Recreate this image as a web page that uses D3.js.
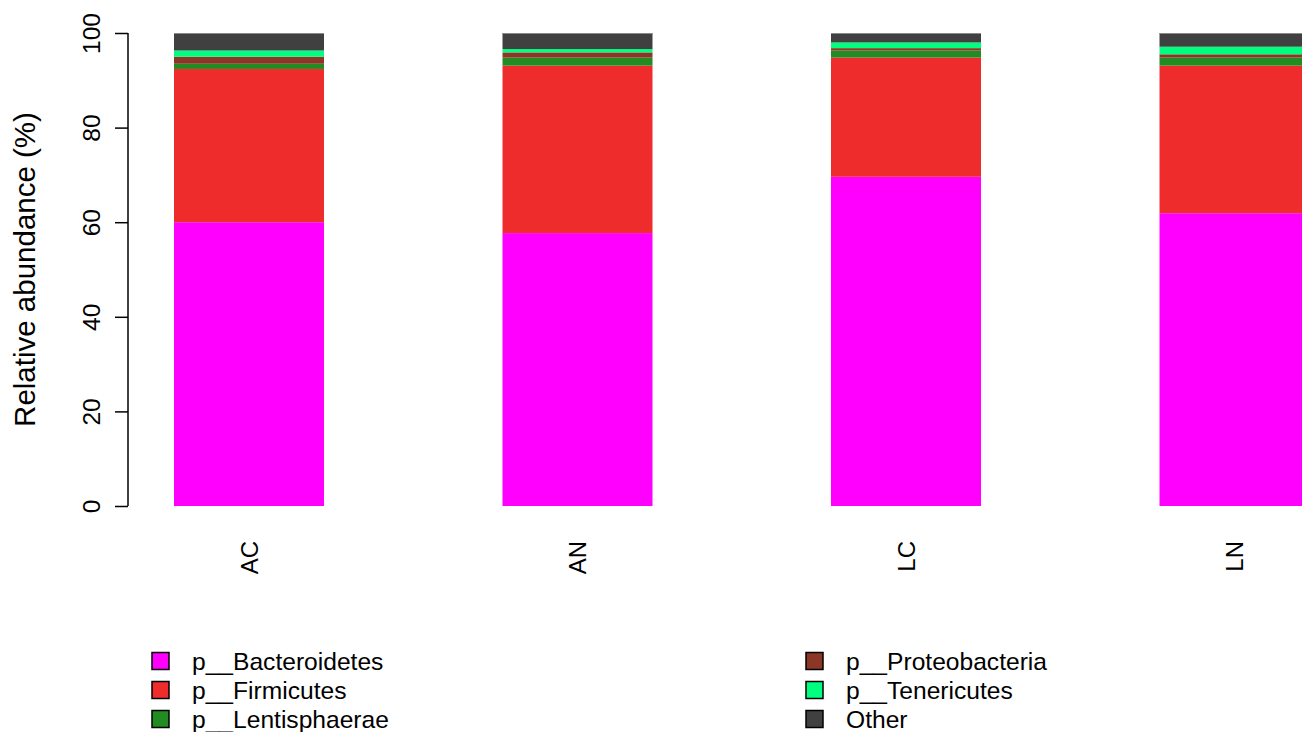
<!DOCTYPE html>
<html>
<head>
<meta charset="utf-8">
<script src="https://cdn.jsdelivr.net/npm/d3@7"></script>
<style>
  html, body { margin: 0; padding: 0; background: #fff; }
  svg { display: block; font-family: "Liberation Sans", Arial, sans-serif; }
</style>
</head>
<body>
<svg id="chart" width="1302" height="732"></svg>
<script>
// Samples along the x axis
const groups = ["AC", "AN", "LC", "LN"];

// Phyla, stacked bottom to top
const phyla = ["p__Bacteroidetes", "p__Firmicutes", "p__Lentisphaerae",
               "p__Proteobacteria", "p__Tenericutes", "Other"];
const phylumColors = ["#FF00FF", "#EE2C2C", "#228B22", "#8B3626", "#00FF7F", "#404040"];

// Relative abundance (%) of each phylum per sample
const bacteroidetes  = [60.0, 57.7, 69.6, 61.9];
const firmicutes     = [32.4, 35.4, 25.2, 31.2];
const lentisphaerae  = [1.1, 1.7, 1.5, 1.7];
const proteobacteria = [1.5, 1.1, 0.5, 0.7];
const tenericutes    = [1.3, 0.7, 1.2, 1.6];
const other          = [3.7, 3.4, 2.0, 2.9];

const yTicks = [0, 20, 40, 60, 80, 100];

const seriesValues = [bacteroidetes, firmicutes, lentisphaerae, proteobacteria, tenericutes, other];
const rows = groups.map((g, i) => {
  const r = { group: g };
  phyla.forEach((p, j) => { r[p] = seriesValues[j][i]; });
  return r;
});

const svg = d3.select("#chart");

const x = d3.scaleBand()
  .domain(groups)
  .range([84.75, 1398.75])
  .paddingInner(0.5434)
  .paddingOuter(0.2717);

const y = d3.scaleLinear().domain([0, 100]).range([506, 33]);

const color = d3.scaleOrdinal().domain(phyla).range(phylumColors);

const stacked = d3.stack().keys(phyla)(rows);

// Stacked bars
const plot = svg.append("g");
plot.selectAll("g.layer")
  .data(stacked)
  .join("g")
  .attr("class", "layer")
  .attr("fill", d => color(d.key))
  .selectAll("rect")
  .data(d => d)
  .join("rect")
  .attr("x", d => x(d.data.group))
  .attr("width", x.bandwidth())
  .attr("y", d => y(d[1]))
  .attr("height", d => y(d[0]) - y(d[1]));

// Thin outline on the top edge of every bar
plot.selectAll("line.cap")
  .data(groups)
  .join("line")
  .attr("x1", d => x(d)).attr("x2", d => x(d) + x.bandwidth())
  .attr("y1", y(100) + 0.5).attr("y2", y(100) + 0.5)
  .attr("stroke", "#8a8a8a").attr("stroke-width", 1);

// Left axis
const yAxis = svg.append("g")
  .attr("transform", "translate(128,0)")
  .call(d3.axisLeft(y).tickValues(yTicks).tickSize(13).tickSizeOuter(0).tickPadding(0));
yAxis.select(".domain").attr("stroke", "#000").attr("stroke-width", 1.5)
  .attr("d", `M0,${y(0)}V${y(100)}`);
yAxis.selectAll(".tick line").attr("stroke", "#000").attr("stroke-width", 1.5);
yAxis.selectAll(".tick text")
  .attr("x", null).attr("dy", null)
  .attr("transform", "translate(-28,0) rotate(-90)")
  .attr("text-anchor", "middle")
  .attr("fill", "#000")
  .style("font-size", "24.5px");

// Axis title
svg.append("text")
  .attr("transform", `translate(35,${(y(0) + y(100)) / 2}) rotate(-90)`)
  .attr("text-anchor", "middle")
  .style("font-size", "29.5px")
  .attr("fill", "#000")
  .text("Relative abundance (%)");

// Sample labels, perpendicular to the axis
svg.append("g").selectAll("text")
  .data(groups)
  .join("text")
  .attr("transform", d => `translate(${x(d) + x.bandwidth() / 2 + 8.5},541) rotate(-90)`)
  .attr("text-anchor", "end")
  .style("font-size", "24px")
  .attr("fill", "#000")
  .text(d => d);

// Legend in two columns
const legendCols = [152, 806];
const legendRows = [661, 690, 719];
const legend = svg.append("g").selectAll("g")
  .data(phyla)
  .join("g")
  .attr("transform", (d, i) => `translate(${legendCols[Math.floor(i / 3)]},${legendRows[i % 3]})`);
legend.append("rect")
  .attr("x", 0).attr("y", -8.5)
  .attr("width", 17).attr("height", 17)
  .attr("fill", d => color(d))
  .attr("stroke", "#000").attr("stroke-width", 1.5);
legend.append("text")
  .attr("x", 40).attr("y", 8.5)
  .style("font-size", "24.6px")
  .attr("fill", "#000")
  .text(d => d);
</script>
</body>
</html>
